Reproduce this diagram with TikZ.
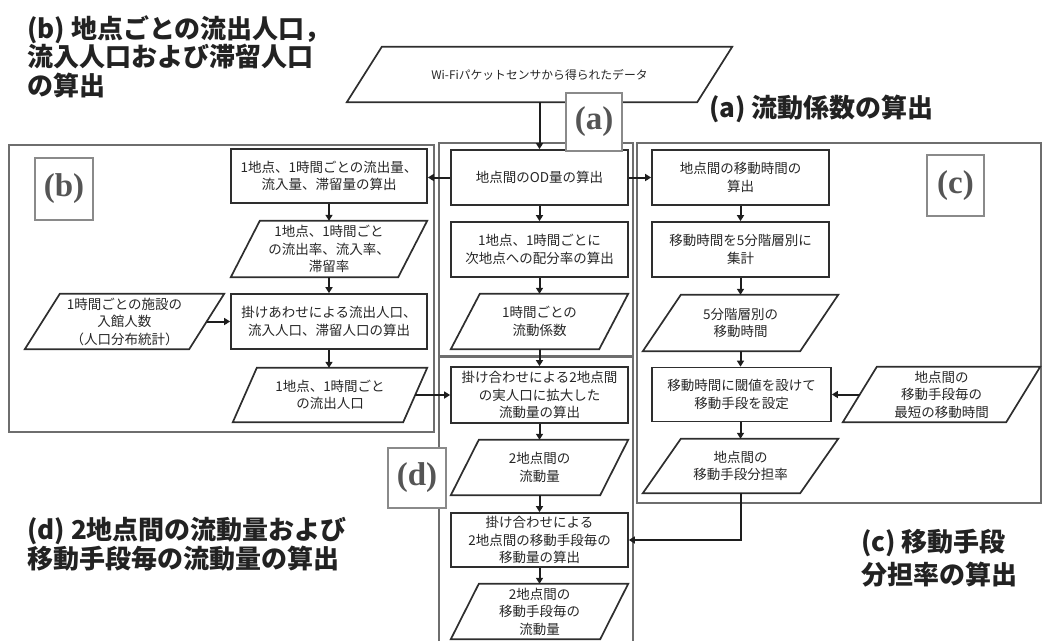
\documentclass[tikz,border=0pt]{standalone}
\usepackage{fontspec}
\newfontfamily\jp{Noto Sans CJK JP}
\newfontfamily\lblfont{Liberation Serif}
\usetikzlibrary{arrows.meta}
\definecolor{boxc}{HTML}{2E2E2E}
\definecolor{txtc}{HTML}{262626}
\definecolor{framec}{HTML}{6E6E6E}
\definecolor{labc}{HTML}{8A8A8A}
\definecolor{labtc}{HTML}{555555}
\definecolor{arrc}{HTML}{1E1E1E}
\definecolor{ttlc}{HTML}{222222}
\newcommand\drawpara[2]{\draw[pline] ([xshift=#2]#1.north west) -- (#1.north east) -- ([xshift=-#2]#1.south east) -- (#1.south west) -- cycle;}
\begin{document}
\begin{tikzpicture}[x=1pt,y=-1pt,
  line join=miter,
  rbox/.style={draw=boxc, line width=1.7pt, fill=white, minimum width=177pt, minimum height=55pt, inner sep=0pt, align=center, font=\jp\fontsize{13.5}{17.5}\selectfont, text=txtc},
  pbox/.style={draw=none, minimum width=177pt, minimum height=55pt, inner sep=0pt, align=center, font=\jp\fontsize{13.5}{17.5}\selectfont, text=txtc},
  pline/.style={draw=boxc, line width=1.7pt},
  framebox/.style={draw=framec, line width=1.6pt},
  lab/.style={draw=labc, line width=1.2pt, fill=white, font=\lblfont\bfseries\fontsize{33}{33}\selectfont, text=labtc, inner sep=0pt},
  arr/.style={draw=arrc, line width=2pt, -{Triangle[length=6pt,width=7pt]}},
  ttl/.style={font=\jp\bfseries\fontsize{26}{28.5}\selectfont, text=ttlc, align=left, inner sep=0pt}
]
\useasboundingbox (0,0) rectangle (1042,641);

% frames
\draw[framebox] (9,145) rectangle (434,432);
\draw[framebox] (439,143) rectangle (633,356);
\draw[framebox] (439,641) -- (439,357) -- (633,357) -- (633,641);
\draw[framebox] (637,143) rectangle (1041,503);

% titles
\node[ttl, anchor=north west] (tb) at (27,15) {(b) 地点ごとの流出人口，\\流入人口および滞留人口\\の算出};
\node[ttl, anchor=north west] (ta) at (709,95) {(a) 流動係数の算出};
\node[ttl, anchor=north west, font=\jp\bfseries\fontsize{26}{27.5}\selectfont] (td) at (27,517) {(d) 2地点間の流動量および\\移動手段毎の流動量の算出};
\node[ttl, anchor=north west, font=\jp\bfseries\fontsize{26}{33}\selectfont] (tc) at (861,529) {(c) 移動手段\\分担率の算出};

% top input
\node[pbox, minimum width=385pt, font=\jp\fontsize{11.8}{14}\selectfont] (wifi) at (539.5,74.5) {Wi-Fiパケットセンサから得られたデータ};
\drawpara{wifi}{35pt}

% (b) column
\node[rbox, minimum width=196pt, minimum height=54pt] (b1) at (329,176) {1地点、1時間ごとの流出量、\\流入量、滞留量の算出};
\node[pbox, minimum width=196pt, minimum height=56pt] (b2) at (329,249) {1地点、1時間ごと\\の流出率、流入率、\\滞留率};
\drawpara{b2}{29pt}
\node[rbox, minimum width=196pt] (b3) at (329,321.5) {掛けあわせによる流出人口、\\流入人口、滞留人口の算出};
\node[pbox, minimum width=199pt] (b4) at (124.5,321.5) {1時間ごとの施設の\\入館人数\\（人口分布統計）};
\drawpara{b4}{35pt}
\node[pbox, minimum width=194pt, minimum height=54pt] (b5) at (330,395) {1地点、1時間ごと\\の流出人口};
\drawpara{b5}{24pt}

% (a) column
\node[rbox] (a1) at (539.5,177.5) {地点間のOD量の算出};
\node[rbox] (a2) at (539.5,249.5) {1地点、1時間ごとに\\次地点への配分率の算出};
\node[pbox] (a3) at (539.5,321.5) {1時間ごとの\\流動係数};
\drawpara{a3}{29pt}

% (d) column
\node[rbox, minimum height=56pt] (d1) at (539.5,395) {掛け合わせによる2地点間\\の実人口に拡大した\\流動量の算出};
\node[pbox] (d2) at (539.5,467.5) {2地点間の\\流動量};
\drawpara{d2}{28pt}
\node[rbox, minimum height=54pt] (d3) at (539.5,540) {掛け合わせによる\\2地点間の移動手段毎の\\移動量の算出};
\node[pbox] (d4) at (539.5,611.5) {2地点間の\\移動手段毎の\\流動量};
\drawpara{d4}{28pt}

% (c) column
\node[rbox] (c1) at (740.5,177.5) {地点間の移動時間の\\算出};
\node[rbox] (c2) at (740.5,249.5) {移動時間を5分階層別に\\集計};
\node[pbox, minimum width=195pt, minimum height=56pt] (c3) at (740.5,323) {5分階層別の\\移動時間};
\drawpara{c3}{38pt}
\node[rbox, minimum width=179pt, minimum height=54pt] (c4) at (741.5,394.5) {移動時間に閾値を設けて\\移動手段を設定};
\node[pbox, minimum width=195pt, minimum height=54pt] (c5) at (740.5,466) {地点間の\\移動手段分担率};
\drawpara{c5}{38pt}
\node[pbox, minimum width=197pt] (c6) at (941.5,394.5) {地点間の\\移動手段毎の\\最短の移動時間};
\drawpara{c6}{34pt}

% arrows
\draw[arr] (wifi.south) -- (a1.north);
\draw[arr] (a1.west) -- (a1.west -| b1.east);
\draw[arr] (a1.east) -- (c1.west);
\draw[arr] (a1) -- (a2);
\draw[arr] (a2) -- (a3);
\draw[arr] (a3) -- (d1);
\draw[arr] (d1) -- (d2);
\draw[arr] (d2) -- (d3);
\draw[arr] (d3) -- (d4);
\draw[arr] (b1.south) -- (b2.north -| b1.south);
\draw[arr] (b2.south) -- (b3.north);
\draw[arr] (b3.south) -- (b3.south |- b5.north);
\draw[arr] ([xshift=-17.5pt]b4.east) -- (b3.west);
\draw[arr] ([xshift=-12pt]b5.east) -- (d1.west);
\draw[arr] (c1) -- (c2);
\draw[arr] (c2) -- (c3);
\draw[arr] (c3.south) -- (c3.south |- c4.north);
\draw[arr] (c4.south -| c5.north) -- (c5.north);
\draw[arr] ([xshift=17pt]c6.west) -- (c4.east);
\draw[arr] (c5.south) |- (d3.east);

% label boxes
\node[lab, minimum width=56pt, minimum height=58pt] (la) at (594,122) {(a)};
\node[lab, minimum width=58pt, minimum height=62pt] (lb) at (64,189) {(b)};
\node[lab, minimum width=57pt, minimum height=61pt] (lc) at (955.5,185.5) {(c)};
\node[lab, minimum width=58pt, minimum height=60pt] (ld) at (417,478) {(d)};
\end{tikzpicture}
\end{document}
